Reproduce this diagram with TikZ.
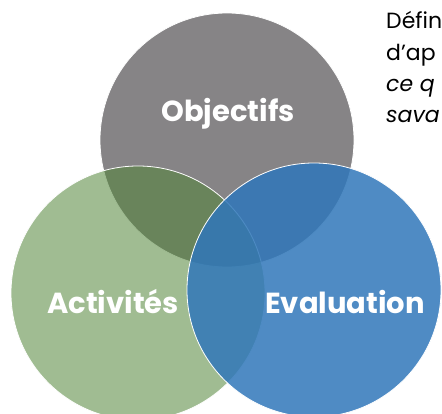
\documentclass[tikz,border=0pt]{standalone}
\usepackage{fontspec}
\setmainfont{Poppins}
\definecolor{gris}{RGB}{134,132,134}
\definecolor{vert}{RGB}{82,133,57}
\definecolor{bleu}{RGB}{48,119,186}
\begin{document}
\begin{tikzpicture}[x=1pt,y=-1pt]
\tikzset{cercle/.style={circle, minimum size=254pt, inner sep=0pt, draw=white, line width=0.8pt},
  titre/.style={text=white, font=\fontsize{29}{32}\selectfont\bfseries},
  ligne/.style={anchor=base west, inner sep=0pt, font=\fontsize{22}{26}\selectfont}}
\useasboundingbox (0,0) rectangle (442,414);
\clip (0,0) rectangle (442,414);
\node[cercle, fill=gris] (obj) at (227,140) {};
\node[cercle, fill=vert, fill opacity=0.55] (act) at (138,293) {};
\node[cercle, fill=bleu, fill opacity=0.85] (eval) at (314,290) {};
\node[titre] (tobj) at (228,114) {Objectifs};
\node[titre] (tact) at (113,302) {Activités};
\node[titre] (teval) at (345,302) {Evaluation};
\node[ligne] (l1) at (386,29) {Défin};
\node[ligne] (l2) at (386,61) {d’ap};
\node[ligne] (l3) at (386,92) {\itshape ce q};
\node[ligne] (l4) at (386,123) {\itshape sava};
\end{tikzpicture}
\end{document}
